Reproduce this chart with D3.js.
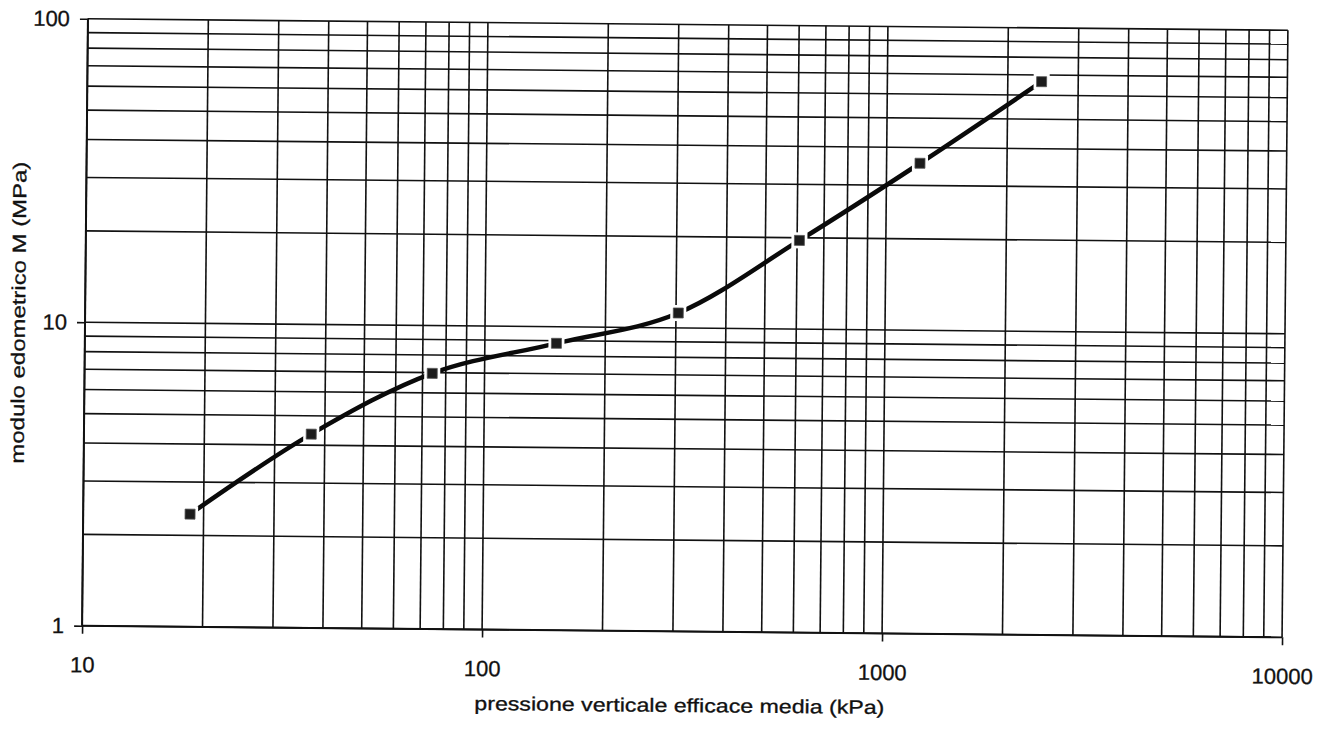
<!DOCTYPE html>
<html>
<head>
<meta charset="utf-8">
<script src="https://cdn.jsdelivr.net/npm/d3@7/dist/d3.min.js"></script>
<style>
  html, body { margin: 0; padding: 0; background: #fff; }
  svg { display: block; }
  text { font-family: "Liberation Sans", Arial, sans-serif; fill: #111; }
</style>
</head>
<body>
<svg id="chart" width="1331" height="729"></svg>
<script>
// Data
const pressure = [18.5, 37, 74, 151, 304, 608, 1212, 2430];   // kPa
const modulus  = [2.35, 4.35, 6.96, 8.82, 11.2, 19.6, 35.5, 66.5]; // MPa
const xTickLabels = [10, 100, 1000, 10000];
const yTickLabels = [1, 10, 100];
const xTitle = "pressione verticale efficace media (kPa)";
const yTitle = "modulo edometrico M  (MPa)";

const W = 1331, H = 729;
const plot = { left: 85, right: 1285, top: 24.5, bottom: 631.5 };

const svg = d3.select("#chart");
svg.append("rect").attr("width", W).attr("height", H).attr("fill", "#fff");

// the scanned original is slightly rotated
const g = svg.append("g").attr("transform", "rotate(0.55, 685, 328)");

const x = d3.scaleLog().domain([10, 10000]).range([plot.left, plot.right]);
const y = d3.scaleLog().domain([1, 100]).range([plot.bottom, plot.top]);

// grid
const grid = g.append("g").attr("stroke", "#111").attr("stroke-width", 1.6).attr("fill", "none");
grid.selectAll("line.v").data(x.ticks()).join("line")
  .attr("class", "v")
  .attr("x1", d => x(d)).attr("x2", d => x(d))
  .attr("y1", plot.top).attr("y2", plot.bottom);
grid.selectAll("line.h").data(y.ticks()).join("line")
  .attr("class", "h")
  .attr("x1", plot.left).attr("x2", plot.right)
  .attr("y1", d => y(d)).attr("y2", d => y(d));

// axes
const xAxis = d3.axisBottom(x).tickValues(xTickLabels).tickFormat(d3.format("d")).tickSize(8).tickPadding(23);
const yAxis = d3.axisLeft(y).tickValues(yTickLabels).tickFormat(d3.format("d")).tickSize(8).tickPadding(10);

const gx = g.append("g").attr("transform", `translate(0,${plot.bottom})`).call(xAxis);
const gy = g.append("g").attr("transform", `translate(${plot.left},0)`).call(yAxis);
[gx, gy].forEach(a => {
  a.select(".domain").attr("stroke", "#111").attr("stroke-width", 2);
  a.selectAll(".tick line").attr("stroke", "#111").attr("stroke-width", 1.6);
  a.selectAll(".tick text")
    .attr("fill", "#111")
    .attr("stroke", "#111").attr("stroke-width", 0.3)
    .style("font-family", "'Liberation Sans', Arial, sans-serif")
    .style("font-size", "22px");
});
gx.select(".domain").attr("d", `M${plot.left},0H${plot.right}`);
gy.select(".domain").attr("d", `M0,${plot.top}V${plot.bottom}`);

// axis titles
g.append("text")
  .attr("x", 683).attr("y", 712)
  .attr("text-anchor", "middle")
  .attr("textLength", 410).attr("lengthAdjust", "spacingAndGlyphs")
  .attr("stroke", "#111").attr("stroke-width", 0.3)
  .style("font-size", "19px")
  .text(xTitle);

g.append("text")
  .attr("transform", "translate(25,319) rotate(-90)")
  .attr("text-anchor", "middle")
  .attr("textLength", 302).attr("lengthAdjust", "spacingAndGlyphs")
  .attr("stroke", "#111").attr("stroke-width", 0.3)
  .style("font-size", "19px")
  .text(yTitle);

// series
const pts = pressure.map((p, i) => [p, modulus[i]]);
const line = d3.line()
  .x(d => x(d[0])).y(d => y(d[1]))
  .curve(d3.curveCardinal.tension(0));

g.append("path")
  .datum(pts)
  .attr("d", line)
  .attr("fill", "none")
  .attr("stroke", "#0a0a0a")
  .attr("stroke-width", 4.5)
  .attr("stroke-linecap", "butt");

const mk = g.append("g");
mk.selectAll("rect.halo").data(pts).join("rect")
  .attr("class", "halo")
  .attr("x", d => x(d[0]) - 8).attr("y", d => y(d[1]) - 8)
  .attr("width", 16).attr("height", 16)
  .attr("fill", "#fff");
mk.selectAll("rect.m").data(pts).join("rect")
  .attr("class", "m")
  .attr("x", d => x(d[0]) - 5).attr("y", d => y(d[1]) - 5)
  .attr("width", 10).attr("height", 10)
  .attr("fill", "#1c1c1c")
  .attr("stroke", "#555").attr("stroke-width", 0.8);
</script>
</body>
</html>
